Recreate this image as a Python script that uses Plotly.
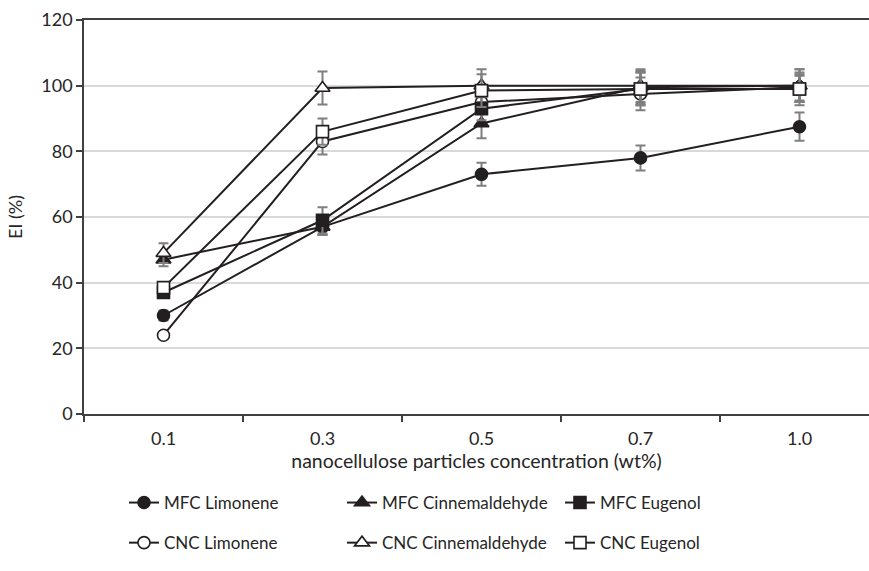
import plotly.graph_objects as go

categories = ['0.1', '0.3', '0.5', '0.7', '1.0']

mfc_limonene = [30, 57, 73, 78, 87.5]
mfc_limonene_err = [1.5, 2.5, 3.5, 3.8, 4.3]
mfc_cinnamaldehyde = [47, 57, 88.5, 99.5, 100]
mfc_cinnamaldehyde_err = [2, 2.5, 4.5, 5, 5]
mfc_eugenol = [37, 59, 93, 99, 99]
mfc_eugenol_err = [1.5, 4, 3.5, 5, 5]
cnc_limonene = [24, 83, 95, 97.5, 99.5]
cnc_limonene_err = [1, 4, 3.5, 5, 4]
cnc_cinnamaldehyde = [49, 99.3, 100, 100, 100]
cnc_cinnamaldehyde_err = [3, 5, 5, 5, 5]
cnc_eugenol = [38.5, 86, 98.5, 99, 99]
cnc_eugenol_err = [1.5, 4, 5, 5, 4]

series = [
    ('MFC Limonene', mfc_limonene, mfc_limonene_err, 'circle', '#231f20', 'legend'),
    ('CNC Limonene', cnc_limonene, cnc_limonene_err, 'circle', 'white', 'legend'),
    ('MFC Cinnemaldehyde', mfc_cinnamaldehyde, mfc_cinnamaldehyde_err, 'triangle-up', '#231f20', 'legend2'),
    ('CNC Cinnemaldehyde', cnc_cinnamaldehyde, cnc_cinnamaldehyde_err, 'triangle-up', 'white', 'legend2'),
    ('MFC Eugenol', mfc_eugenol, mfc_eugenol_err, 'square', '#231f20', 'legend3'),
    ('CNC Eugenol', cnc_eugenol, cnc_eugenol_err, 'square', 'white', 'legend3'),
]

FONT = 'Lato'
TXT = '#262626'
INK = '#231f20'

fig = go.Figure()
for name, vals, errs, sym, fill, lg in series:
    fig.add_trace(go.Scatter(
        x=categories, y=vals, name=name, mode='lines+markers',
        legend=lg, legendgroup=name,
        line=dict(color=INK, width=2),
        marker=dict(symbol=sym, size=12 if sym != 'triangle-up' else 13, color=fill,
                    line=dict(color=INK, width=1.6)),
        error_y=dict(type='data', array=errs, visible=True, color='#7f7f7f',
                     thickness=2, width=5),
    ))

leg_common = dict(orientation='v', xanchor='left', yanchor='top',
                  bgcolor='rgba(0,0,0,0)', tracegroupgap=15,
                  font=dict(family=FONT, size=17, color=TXT), itemwidth=30)
px_w = 785.0
px_h = 394.0
def lx(p):
    return (p - 84) / px_w
def ly(p):
    return (414 - p) / px_h

fig.update_layout(
    width=869, height=571,
    margin=dict(l=84, r=0, t=20, b=157),
    paper_bgcolor='white', plot_bgcolor='white',
    font=dict(family=FONT, size=17, color=TXT),
    legend=dict(x=lx(124), y=ly(485), **leg_common),
    legend2=dict(x=lx(342), y=ly(485), **leg_common),
    legend3=dict(x=lx(560), y=ly(485), **leg_common),
    xaxis=dict(type='category', range=[-0.5, -0.5 + px_w / 159.0],
               tickson='boundaries', ticks='outside', ticklen=6, tickwidth=1.5,
               tickcolor='#404040', showline=True, linecolor='#404040', linewidth=1.5,
               mirror=True, showgrid=False, zeroline=False, ticklabelstandoff=8,
               tickfont=dict(family=FONT, size=18, color=TXT),
               title=dict(text='nanocellulose particles concentration (wt%)',
                          font=dict(family=FONT, size=19.5, color=TXT), standoff=2)),
    yaxis=dict(range=[0, 120], dtick=20, ticks='outside', ticklen=6, tickwidth=1.5,
               tickcolor='#404040', showline=True, linecolor='#404040', linewidth=1.5,
               showgrid=True, gridcolor='#d9d9d9', gridwidth=1.5, zeroline=False,
               tickfont=dict(family=FONT, size=18, color=TXT),
               title=dict(text='EI (%)', font=dict(family=FONT, size=18, color=TXT), standoff=14)),
)

fig.write_html('out.html')
